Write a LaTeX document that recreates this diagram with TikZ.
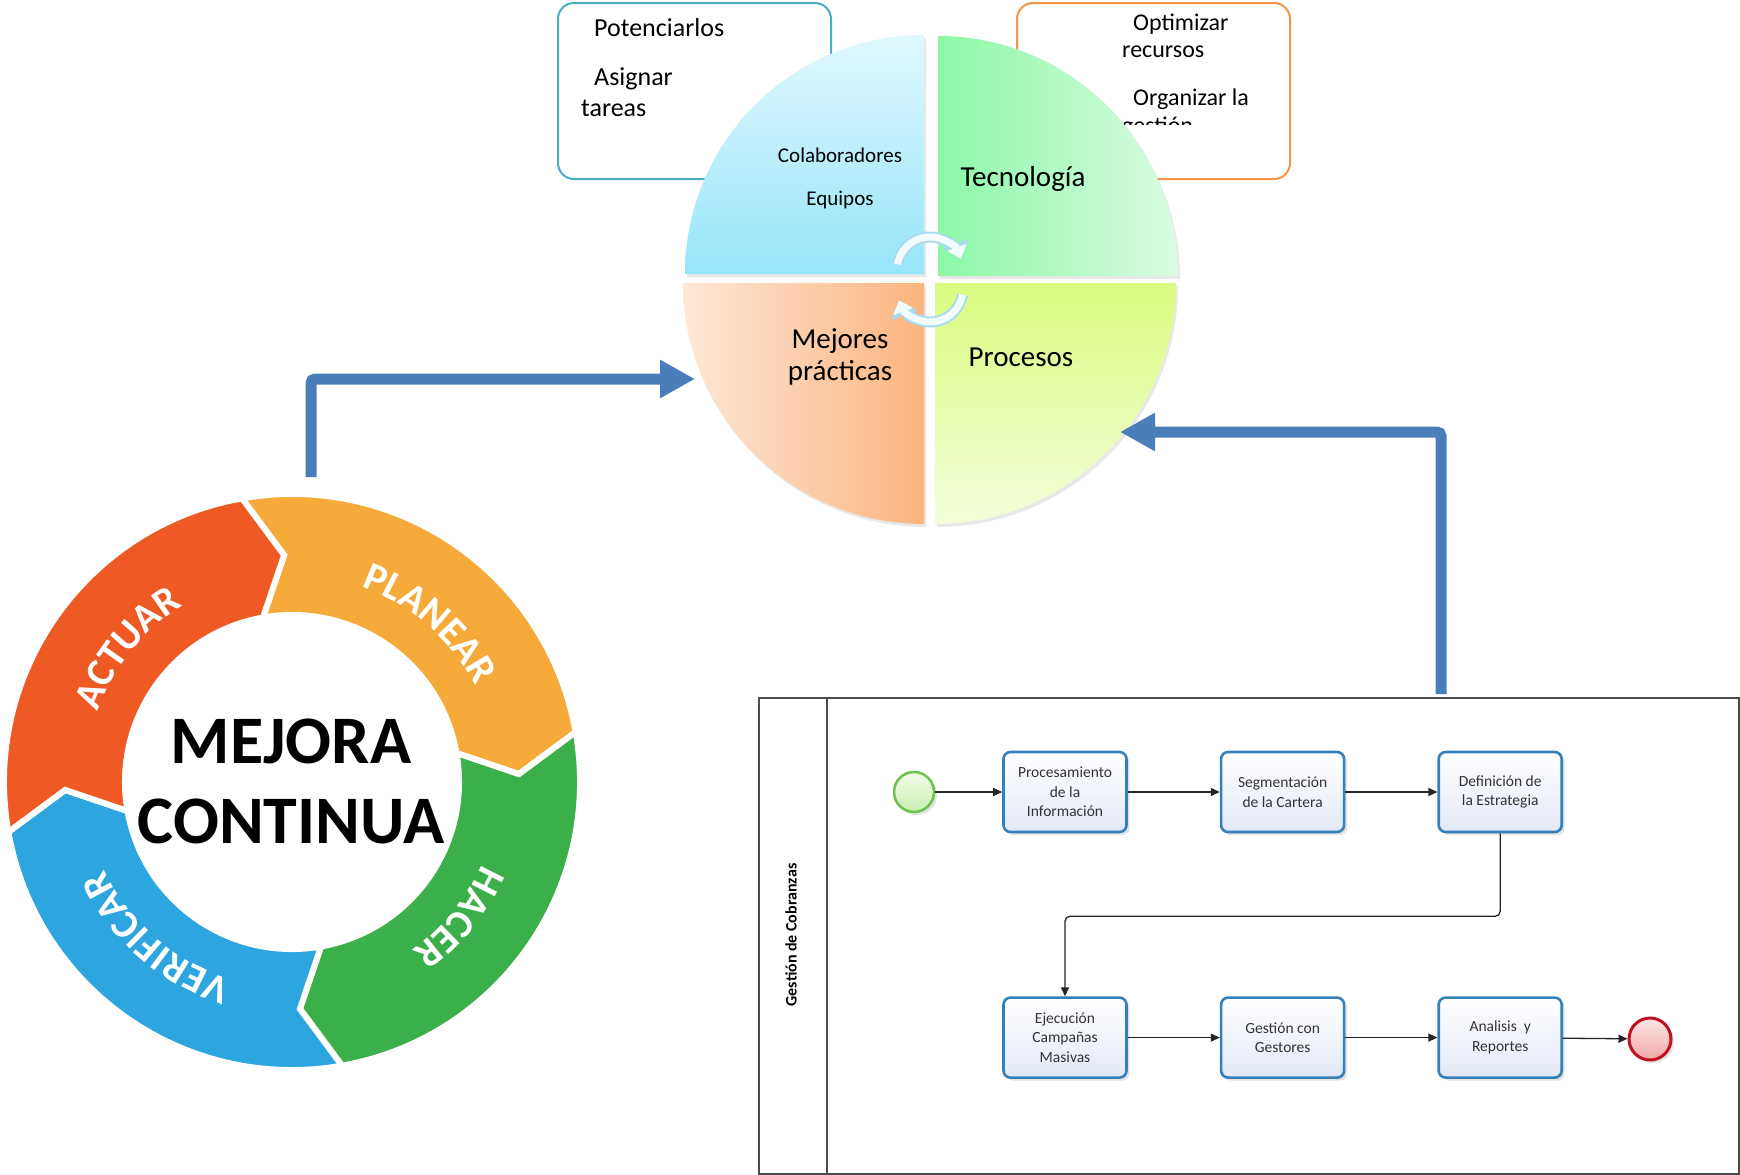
\documentclass[tikz,border=0pt]{standalone}
\usepackage{fontspec}
\setmainfont{Carlito}
\usetikzlibrary{arrows.meta,shadows,decorations.text,positioning}

\definecolor{tealline}{RGB}{75,172,198}
\definecolor{orangeline}{RGB}{247,150,70}
\definecolor{arrowblue}{RGB}{74,126,187}
\definecolor{tltop}{RGB}{224,248,253}
\definecolor{tlbot}{RGB}{151,229,250}
\definecolor{trleft}{RGB}{140,248,166}
\definecolor{trright}{RGB}{218,251,227}
\definecolor{blleft}{RGB}{253,232,216}
\definecolor{blright}{RGB}{251,180,126}
\definecolor{brtop}{RGB}{219,251,128}
\definecolor{brbot}{RGB}{242,253,217}
\definecolor{cycedge}{RGB}{170,218,238}
\definecolor{cycfill}{RGB}{242,251,254}
\definecolor{actcol}{RGB}{239,90,36}
\definecolor{plancol}{RGB}{246,170,58}
\definecolor{docol}{RGB}{59,176,74}
\definecolor{checkcol}{RGB}{45,166,224}
\definecolor{taskline}{RGB}{52,128,186}
\definecolor{taskfill}{RGB}{226,232,246}
\definecolor{startline}{RGB}{108,194,74}
\definecolor{starttop}{RGB}{245,252,235}
\definecolor{startbot}{RGB}{200,237,176}
\definecolor{endline}{RGB}{192,17,31}
\definecolor{endtop}{RGB}{253,230,230}
\definecolor{endbot}{RGB}{241,167,167}

\newcommand{\fsz}[2]{\fontsize{#1}{#2}\selectfont}
\newcommand{\pdcafont}{\fontsize{40}{44}\selectfont\bfseries}

\tikzstyle{infobox}=[rectangle, rounded corners=16pt, line width=2pt, fill=white, inner sep=0pt, anchor=north west]
\tikzstyle{annot}=[align=left, anchor=west, inner sep=0pt]
\tikzstyle{quad}=[drop shadow={opacity=0.18, shadow xshift=2pt, shadow yshift=-3pt}]
\tikzstyle{qlabel}=[align=center, inner sep=0pt]
\tikzstyle{bigarrow}=[draw=arrowblue, line width=11pt, rounded corners=4pt, -{Triangle[length=35pt,width=36pt]}]
\tikzstyle{cycback}=[draw=cycedge, line width=11pt, -{Triangle[length=16pt,width=27pt]}]
\tikzstyle{cycfront}=[draw=cycfill, line width=7pt, -{Triangle[length=12pt,width=20pt]}]
\tikzstyle{task}=[rectangle, rounded corners=7pt, draw=taskline, line width=2.6pt, top color=white, bottom color=taskfill, minimum width=123pt, minimum height=80pt, align=center, font=\fsz{15.5}{19.5}, text=black!80, inner sep=2pt, drop shadow={opacity=0.22, shadow xshift=3pt, shadow yshift=-3pt}]
\tikzstyle{event}=[circle, minimum size=40pt, inner sep=0pt, drop shadow={opacity=0.22, shadow xshift=3pt, shadow yshift=-3pt}]
\tikzstyle{flow}=[draw=black!85, line width=1.3pt, -{Triangle[length=9pt,width=8pt]}]

% one chevron of the ring: tail angle, colour
\newcommand{\pdcaseg}[2]
{
  \path[fill=#2, draw=white, line width=6pt] (#1:288) arc[start angle=#1, end angle=#1+90, radius=288]
    -- ({#1+98}:227) -- ({#1+90}:167) arc[start angle=#1+90, end angle=#1, radius=167]
    -- ({#1+8}:227) -- cycle;
}
% curved label of the ring: centre angle, text
\newcommand{\pdcalabel}[2]
{
  \path[decorate, decoration={text along path, text={|\pdcafont|#2}, text align=center, text color=white}]
    ({#1-40}:207) arc[start angle=#1-40, end angle=#1+40, radius=207];
}

\begin{document}
\begin{tikzpicture}[x=1pt, y=-1pt]
	\path[use as bounding box, fill=white] (0,0) rectangle (1740,1175);

	% boxes behind the circle
	\node[infobox, draw=tealline, minimum width=273pt, minimum height=176pt] (peoplebox) at (557,2) {};
	\node[infobox, draw=orangeline, minimum width=273pt, minimum height=176pt] (techbox) at (1016,2) {};
	\node[annot, font=\fsz{26}{30}] (potenciar) at (594,28) {Potenciarlos};
	\node[annot, font=\fsz{26}{30}] (asignar) at (594,79) {Asignar};
	\node[annot, font=\fsz{26}{30}] (tareas) at (581,108) {tareas};
	\node[annot, font=\fsz{24}{28}] (optimizar) at (1133,24) {Optimizar};
	\node[annot, font=\fsz{24}{28}] (recursos) at (1122,52) {recursos};
	\node[annot, font=\fsz{24}{28}] (organizar) at (1133,99) {Organizar la};
	\begin{scope}
		\clip (1016,0) rectangle (1289,124);
		\node[annot, font=\fsz{24}{28}] (gestion) at (1122,127) {gestión};
	\end{scope}

	% four quadrants
	\path[quad, top color=tltop, bottom color=tlbot] (924,274) -- (685,274) arc[start angle=180, end angle=270, radius=239] -- cycle;
	\path[quad, left color=trleft, right color=trright] (938,276) -- (938,36) arc[start angle=270, end angle=360, radius=240] -- cycle;
	\path[quad, left color=blleft, right color=blright] (924,283) -- (924,524) arc[start angle=90, end angle=180, radius=241] -- cycle;
	\path[quad, top color=brtop, bottom color=brbot] (935,283) -- (1176,283) arc[start angle=0, end angle=90, radius=241] -- cycle;

	\node[qlabel, font=\fsz{21}{24}] (colab) at (840,155) {Colaboradores};
	\node[qlabel, font=\fsz{21}{24}] (equipos) at (840,200) {Equipos};
	\node[qlabel, font=\fsz{29}{32}] (tecno) at (1023,179) {Tecnología};
	\node[qlabel, font=\fsz{29}{32}] (mejores) at (840,357) {Mejores\\prácticas};
	\node[qlabel, font=\fsz{29}{32}] (procesos) at (1021,357) {Procesos};

	\draw[cycback] (930,270) ++(190:33) arc[start angle=190, end angle=340, radius=33];
	\draw[cycfront] (930,270) ++(190:33) arc[start angle=190, end angle=340, radius=33];
	\draw[cycback] (930,289) ++(10:33) arc[start angle=10, end angle=160, radius=33];
	\draw[cycfront] (930,289) ++(10:33) arc[start angle=10, end angle=160, radius=33];

	% ring
	\begin{scope}[shift={(292,782)}]
		\pdcaseg{-100}{plancol}
		\pdcaseg{-10}{docol}
		\pdcaseg{80}{checkcol}
		\pdcaseg{170}{actcol}
		\pdcalabel{-49}{PLANEAR}
		\pdcalabel{39}{HACER}
		\pdcalabel{131}{VERIFICAR}
		\pdcalabel{-141}{ACTUAR}
	\end{scope}
	\node[font=\fsz{68}{80}\bfseries, align=center] (mejora) at (291,781) {MEJORA\\CONTINUA};

	% pool
	\node[draw=black!70, line width=1.8pt, minimum width=980pt, minimum height=476pt, inner sep=0pt, anchor=north west] (pool) at (758,697) {};
	\draw[draw=black!70, line width=1.5pt] ([xshift=69pt]pool.north west) -- ([xshift=69pt]pool.south west);
	\node[font=\fsz{16}{18}\bfseries, rotate=90] (lane) at (791,935) {Gestión de Cobranzas};

	\node[event, draw=startline, line width=2.5pt, top color=starttop, bottom color=startbot] (start) at (914,792) {};
	\node[task] (task1) at (1065,792) {Procesamiento\\de la\\Información};
	\node[task, right=92pt of task1] (task2) {Segmentación\\de la Cartera};
	\node[task, right=92pt of task2] (task3) {Definición de\\la Estrategia};
	\node[task, below=163pt of task1] (task4) {Ejecución\\Campañas\\Masivas};
	\node[task, right=92pt of task4] (task5) {Gestión con\\Gestores};
	\node[task, right=92pt of task5] (task6) {Analisis \ y\\Reportes};
	\node[event, minimum size=42pt, draw=endline, line width=3pt, top color=endtop, bottom color=endbot] (finish) at (1650,1039) {};

	\draw[flow] (start) -- (task1);
	\draw[flow] (task1) -- (task2);
	\draw[flow] (task2) -- (task3);
	\draw[flow, rounded corners=5pt] (task3.south) -- ++(0,83) -| (task4.north);
	\draw[flow] (task4) -- (task5);
	\draw[flow] (task5) -- (task6);
	\draw[flow] (task6) -- (finish);

	% links
	\coordinate (pdcaout) at (311,477);
	\coordinate (mejin) at (695,379);
	\coordinate (poolin) at (1441,694);
	\coordinate (procin) at (1120,432);
	\draw[bigarrow] (pdcaout) |- (mejin);
	\draw[bigarrow] (poolin) |- (procin);
\end{tikzpicture}
\end{document}
